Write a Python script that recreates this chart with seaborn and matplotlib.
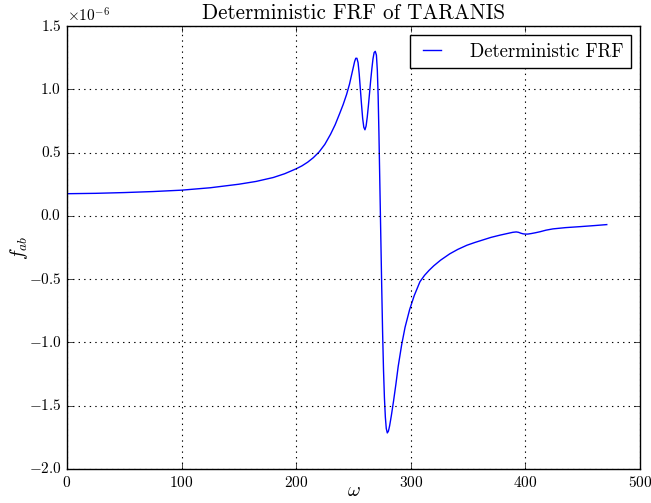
import matplotlib
matplotlib.use("Agg")
import matplotlib.pyplot as plt
from matplotlib.ticker import ScalarFormatter
import seaborn as sns
import numpy as np

# frequency axis and FRF value (units of 1e-6)
omega = [0, 25, 50, 75, 100, 125, 150, 165, 180, 190, 200, 205, 210, 215,
         220, 225, 230, 234, 238, 241, 244, 246.5, 248.5, 250, 251, 252,
         253, 254, 255, 256, 257, 258, 259, 260, 261, 262, 263, 264, 265,
         266, 267, 268, 269, 270, 270.8, 271.5, 272.2, 273, 273.8, 274.6,
         275.4, 276.2, 277, 277.8, 278.6, 279.5, 280.5, 281.5, 283, 285,
         287, 289, 292, 295, 299, 303, 308, 312, 316, 320, 326, 334, 341,
         349, 356, 363, 370, 378, 385, 389, 392, 394, 396, 398, 400, 402,
         405, 409, 413, 418, 424, 435, 448, 460, 471]
frf = [0.175, 0.178, 0.184, 0.192, 0.203, 0.222, 0.250, 0.272, 0.303, 0.333,
       0.372, 0.395, 0.424, 0.46, 0.505, 0.565, 0.645, 0.72, 0.81, 0.88, 0.96,
       1.04, 1.12, 1.18, 1.22, 1.245, 1.245, 1.21, 1.12, 1.0, 0.88, 0.77,
       0.70, 0.68, 0.71, 0.78, 0.87, 0.97, 1.07, 1.16, 1.24, 1.29, 1.30,
       1.27, 1.15, 0.95, 0.65, 0.25, -0.15, -0.55, -0.92, -1.22, -1.44,
       -1.59, -1.68, -1.715, -1.70, -1.66, -1.58, -1.46, -1.33, -1.19,
       -1.02, -0.88, -0.74, -0.63, -0.52, -0.47, -0.43, -0.395, -0.35,
       -0.30, -0.265, -0.232, -0.21, -0.19, -0.17, -0.152, -0.138, -0.13,
       -0.127, -0.13, -0.137, -0.142, -0.144, -0.144, -0.14, -0.133,
       -0.125, -0.113, -0.103, -0.093, -0.085, -0.077, -0.069]

plt.style.use("classic")
plt.rcParams["font.family"] = "serif"
plt.rcParams["font.serif"] = ["cmr10"]
plt.rcParams["mathtext.fontset"] = "cm"
plt.rcParams["axes.formatter.use_mathtext"] = True
plt.rcParams["axes.formatter.limits"] = [-3, 4]
plt.rcParams["axes.formatter.useoffset"] = True

fig = plt.figure(figsize=(6.51, 5.03), dpi=100, facecolor="white")
ax = fig.add_axes([0.1029, 0.0676, 0.8802, 0.8807])

sns.lineplot(x=np.array(omega), y=np.array(frf) * 1e-6, ax=ax, color="b",
             lw=1, label="Deterministic FRF")

ax.set_xlim(0, 500)
ax.set_ylim(-2.0e-6, 1.5e-6)
ax.set_xticks([0, 100, 200, 300, 400, 500])
ax.set_yticks(np.arange(-2.0, 1.51, 0.5) * 1e-6)
ax.yaxis.set_major_formatter(ScalarFormatter(useMathText=True))
ax.xaxis.set_major_formatter(ScalarFormatter(useMathText=True))
ax.tick_params(labelsize=11)
ax.grid(True, linestyle=":", color="k", lw=0.8)
ax.set_title("Deterministic FRF of TARANIS", fontsize=15.2)
ax.set_xlabel(r"$\omega$", fontsize=14, labelpad=-5.5)
ax.set_ylabel(r"$f_{ab}$", fontsize=14, labelpad=-1)
ax.yaxis.get_offset_text().set_fontsize(11)
ax.legend(loc="upper right", fontsize=13.5, fancybox=False,
          handlelength=1.6, handletextpad=1.2)

fig.savefig("out.png", dpi=100, facecolor="white")
